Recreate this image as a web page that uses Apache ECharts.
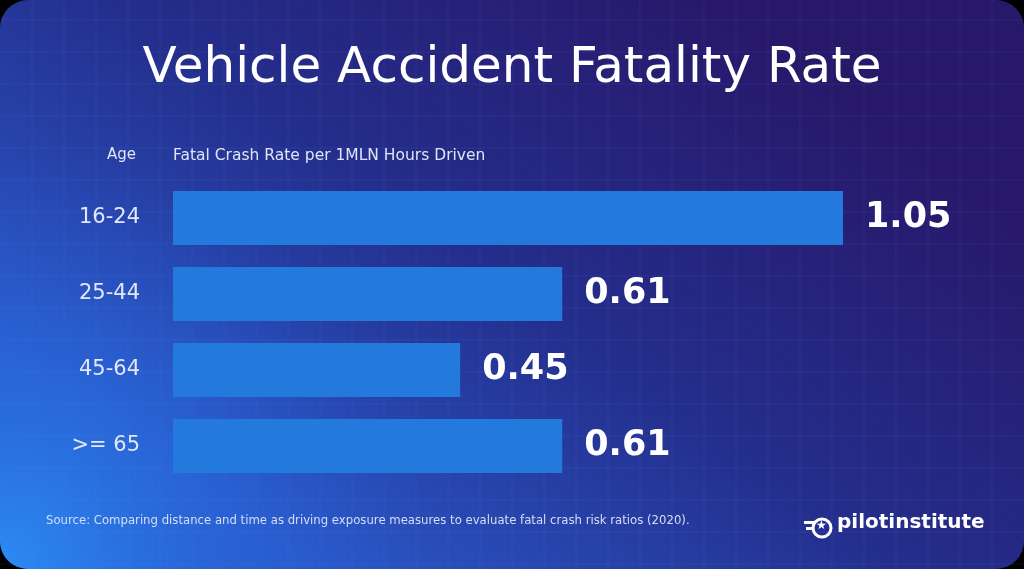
<!DOCTYPE html>
<html><head><meta charset="utf-8">
<script src="https://cdn.jsdelivr.net/npm/echarts@6/dist/echarts.min.js"></script>
<style>html,body{margin:0;padding:0;background:#000}#c{width:1024px;height:569px}</style>
</head><body><div id="c"></div>
<script>
const categories = ['16-24','25-44','45-64','>= 65'];
const values = [1.05, 0.61, 0.45, 0.61];
const title = 'Vehicle Accident Fatality Rate';
const source = 'Source: Comparing distance and time as driving exposure measures to evaluate fatal crash risk ratios (2020).';

const chart = echarts.init(document.getElementById('c'));
const gridLines = [];
for (let x = 32; x < 1024; x += 32) gridLines.push({type:'line', shape:{x1:x,y1:0,x2:x,y2:569}, style:{stroke:'rgba(120,150,255,0.09)',lineWidth:1}, silent:true});
for (let y = 20; y < 569; y += 32) gridLines.push({type:'line', shape:{x1:0,y1:y,x2:1024,y2:y}, style:{stroke:'rgba(120,150,255,0.09)',lineWidth:1}, silent:true});
const F = '"DejaVu Sans", sans-serif';

chart.setOption({
  backgroundColor:'#000',
  graphic:[
    {type:'rect', z:-11, shape:{x:0,y:0,width:1024,height:569,r:[28,28,28,28]},
     style:{fill:new echarts.graphic.LinearGradient(0.3,1,0.7,0,[
       {offset:0,color:'#2a58c8'},{offset:0.5,color:'#242e8c'},{offset:1,color:'#28186a'}])}},
    {type:'rect', z:-10, shape:{x:0,y:0,width:1024,height:569,r:[28,28,28,28]},
     style:{fill:new echarts.graphic.RadialGradient(0,1,0.75,[
       {offset:0,color:'rgba(44,140,245,1)'},{offset:0.5,color:'rgba(40,110,225,0.5)'},{offset:1,color:'rgba(40,90,210,0)'}])}},
    ...gridLines.map(g=>Object.assign(g,{z:-9})),
    {type:'text', left:'center', top:44, style:{text:title, fill:'#fff', font:'500 50px '+F}},
    {type:'text', left:107, top:148, style:{text:'Age', fill:'#dfe5f7', font:'15px '+F}},
    {type:'text', left:173, top:148, style:{text:'Fatal Crash Rate per 1MLN Hours Driven', fill:'#dfe5f7', font:'15.5px '+F}},
    {type:'text', left:46, top:515, style:{text:source, fill:'#d6def5', font:'11.7px '+F}},
    {type:'text', left:837, top:513, style:{text:'pilotinstitute', fill:'#fff', font:'bold 20px '+F}},
    {type:'circle', shape:{cx:822,cy:528,r:9}, style:{fill:'none',stroke:'#fff',lineWidth:3}},
    {type:'text', left:816, top:520, style:{text:'★', fill:'#fff', font:'12px "DejaVu Sans"'}},
    {type:'rect', shape:{x:804,y:521,width:10,height:3}, style:{fill:'#fff'}},
    {type:'rect', shape:{x:806,y:527,width:8,height:3}, style:{fill:'#fff'}}
  ],
  grid:{left:173, right:181, top:180, bottom:85},
  xAxis:{type:'value', min:0, max:1.05, show:false},
  yAxis:{type:'category', data:categories, inverse:true,
    axisLine:{show:false}, axisTick:{show:false},
    axisLabel:{color:'#e3e8f8', fontSize:21, margin:33, fontFamily:'DejaVu Sans'}},
  series:[{type:'bar', data:values, barWidth:54,
    itemStyle:{color:'#2379dc'},
    label:{show:true, position:'right', distance:22, color:'#fff', fontSize:35, fontWeight:'bold', fontFamily:'DejaVu Sans',
      formatter:p=>p.value.toFixed(2)}}]
});
</script></body></html>
